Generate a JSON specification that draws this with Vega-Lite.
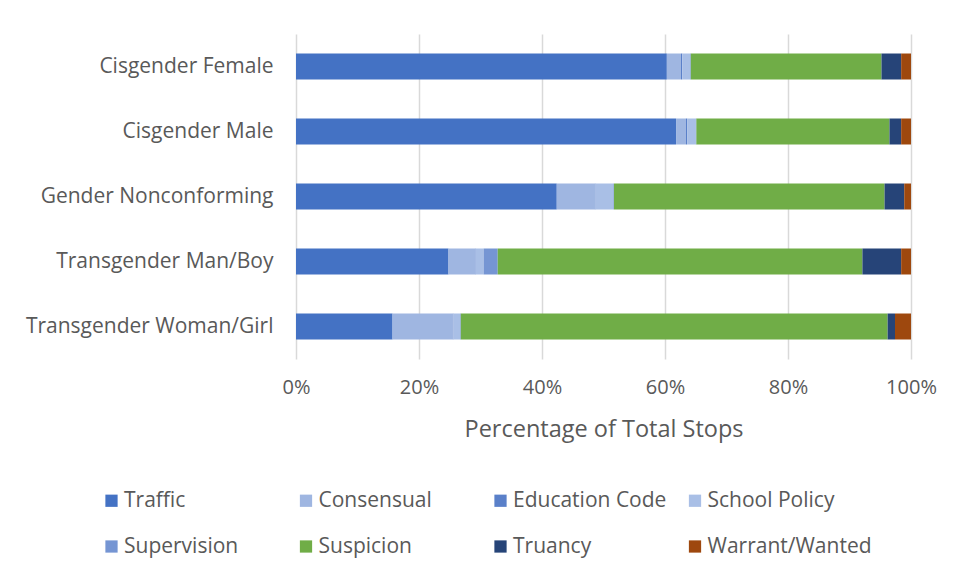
{
  "$schema": "https://vega.github.io/schema/vega-lite/v6.json",
  "width": 615,
  "height": 325,
  "autosize": {"type": "none"},
  "padding": {"left": 296, "top": 34, "right": 46, "bottom": 221},
  "background": "white",
  "data": {
    "values": [
      {"group": "Cisgender Female", "reason": "Traffic", "o": 1, "pct": 60.3},
      {"group": "Cisgender Female", "reason": "Consensual", "o": 2, "pct": 2.3},
      {"group": "Cisgender Female", "reason": "Education Code", "o": 3, "pct": 0.2},
      {"group": "Cisgender Female", "reason": "School Policy", "o": 4, "pct": 1.3},
      {"group": "Cisgender Female", "reason": "Supervision", "o": 5, "pct": 0.1},
      {"group": "Cisgender Female", "reason": "Suspicion", "o": 6, "pct": 31.0},
      {"group": "Cisgender Female", "reason": "Truancy", "o": 7, "pct": 3.2},
      {"group": "Cisgender Female", "reason": "Warrant/Wanted", "o": 8, "pct": 1.6},
      {"group": "Cisgender Male", "reason": "Traffic", "o": 1, "pct": 61.8},
      {"group": "Cisgender Male", "reason": "Consensual", "o": 2, "pct": 1.6},
      {"group": "Cisgender Male", "reason": "Education Code", "o": 3, "pct": 0.2},
      {"group": "Cisgender Male", "reason": "School Policy", "o": 4, "pct": 1.4},
      {"group": "Cisgender Male", "reason": "Supervision", "o": 5, "pct": 0.1},
      {"group": "Cisgender Male", "reason": "Suspicion", "o": 6, "pct": 31.4},
      {"group": "Cisgender Male", "reason": "Truancy", "o": 7, "pct": 1.9},
      {"group": "Cisgender Male", "reason": "Warrant/Wanted", "o": 8, "pct": 1.6},
      {"group": "Gender Nonconforming", "reason": "Traffic", "o": 1, "pct": 42.4},
      {"group": "Gender Nonconforming", "reason": "Consensual", "o": 2, "pct": 6.2},
      {"group": "Gender Nonconforming", "reason": "Education Code", "o": 3, "pct": 0.1},
      {"group": "Gender Nonconforming", "reason": "School Policy", "o": 4, "pct": 2.9},
      {"group": "Gender Nonconforming", "reason": "Supervision", "o": 5, "pct": 0.1},
      {"group": "Gender Nonconforming", "reason": "Suspicion", "o": 6, "pct": 44.0},
      {"group": "Gender Nonconforming", "reason": "Truancy", "o": 7, "pct": 3.2},
      {"group": "Gender Nonconforming", "reason": "Warrant/Wanted", "o": 8, "pct": 1.1},
      {"group": "Transgender Man/Boy", "reason": "Traffic", "o": 1, "pct": 24.8},
      {"group": "Transgender Man/Boy", "reason": "Consensual", "o": 2, "pct": 4.3},
      {"group": "Transgender Man/Boy", "reason": "Education Code", "o": 3, "pct": 0.1},
      {"group": "Transgender Man/Boy", "reason": "School Policy", "o": 4, "pct": 1.3},
      {"group": "Transgender Man/Boy", "reason": "Supervision", "o": 5, "pct": 2.3},
      {"group": "Transgender Man/Boy", "reason": "Suspicion", "o": 6, "pct": 59.3},
      {"group": "Transgender Man/Boy", "reason": "Truancy", "o": 7, "pct": 6.3},
      {"group": "Transgender Man/Boy", "reason": "Warrant/Wanted", "o": 8, "pct": 1.6},
      {"group": "Transgender Woman/Girl", "reason": "Traffic", "o": 1, "pct": 15.7},
      {"group": "Transgender Woman/Girl", "reason": "Consensual", "o": 2, "pct": 9.8},
      {"group": "Transgender Woman/Girl", "reason": "Education Code", "o": 3, "pct": 0.1},
      {"group": "Transgender Woman/Girl", "reason": "School Policy", "o": 4, "pct": 1.1},
      {"group": "Transgender Woman/Girl", "reason": "Supervision", "o": 5, "pct": 0.1},
      {"group": "Transgender Woman/Girl", "reason": "Suspicion", "o": 6, "pct": 69.4},
      {"group": "Transgender Woman/Girl", "reason": "Truancy", "o": 7, "pct": 1.2},
      {"group": "Transgender Woman/Girl", "reason": "Warrant/Wanted", "o": 8, "pct": 2.6}
    ]
  },
  "mark": {"type": "bar"},
  "encoding": {
    "y": {
      "field": "group",
      "type": "nominal",
      "sort": ["Cisgender Female", "Cisgender Male", "Gender Nonconforming", "Transgender Man/Boy", "Transgender Woman/Girl"],
      "scale": {"paddingInner": 0.6, "paddingOuter": 0.3},
      "axis": {
        "title": null,
        "ticks": false,
        "domain": false,
        "labelPadding": 23,
        "labelFontSize": 21,
        "labelFont": "Open Sans",
        "labelColor": "#595959",
        "labelLimit": 300
      }
    },
    "x": {
      "field": "pct",
      "type": "quantitative",
      "stack": "normalize",
      "scale": {"domain": [0, 1], "nice": false},
      "axis": {
        "title": "Percentage of Total Stops",
        "format": "%",
        "values": [0, 0.2, 0.4, 0.6, 0.8, 1],
        "ticks": false,
        "domain": false,
        "grid": true,
        "gridColor": "#d9d9d9",
        "gridWidth": 1.5,
        "labelFlush": false,
        "labelPadding": 18,
        "labelFontSize": 20,
        "labelFont": "Open Sans",
        "labelColor": "#595959",
        "titleFontSize": 23.5,
        "titleFont": "Open Sans",
        "titleFontWeight": "normal",
        "titleColor": "#595959",
        "titlePadding": 20
      }
    },
    "order": {"field": "o", "type": "quantitative"},
    "color": {
      "field": "reason",
      "type": "nominal",
      "scale": {
        "domain": ["Traffic", "Consensual", "Education Code", "School Policy", "Supervision", "Suspicion", "Truancy", "Warrant/Wanted"],
        "range": ["#4472C4", "#9fb6e1", "#5a80c9", "#a9bfe6", "#7595d3", "#70AD47", "#264478", "#9E480E"]
      },
      "legend": {
        "title": null,
        "orient": "none",
        "legendX": -195,
        "legendY": 456,
        "direction": "horizontal",
        "columns": 4,
        "gridAlign": "all",
        "columnPadding": 6.5,
        "rowPadding": 24,
        "symbolType": "square",
        "symbolSize": 150,
        "symbolStrokeWidth": 0,
        "labelOffset": 2,
        "labelFontSize": 21,
        "labelFont": "Open Sans",
        "labelColor": "#595959",
        "labelLimit": 220
      }
    }
  },
  "config": {
    "view": {"stroke": null}
  }
}
